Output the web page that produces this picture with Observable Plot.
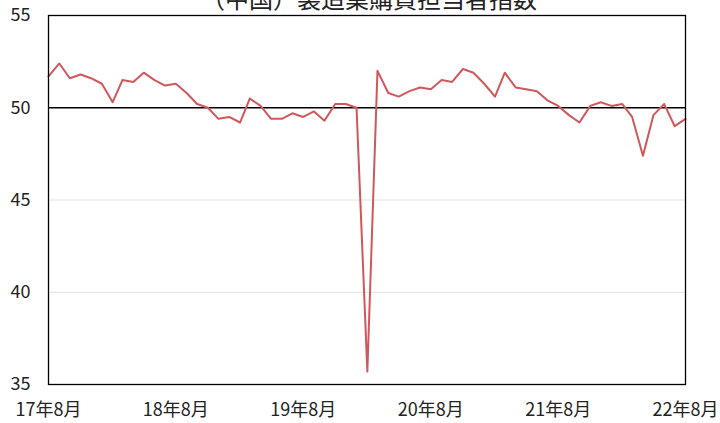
<!DOCTYPE html>
<html><head><meta charset="utf-8">
<script src="https://cdn.jsdelivr.net/npm/d3@7"></script>
<script src="https://cdn.jsdelivr.net/npm/@observablehq/plot@0.6"></script>
<style>
body{margin:0;background:#fff;font-family:"Noto Sans CJK JP","Noto Sans",sans-serif;}
#wrap{position:relative;width:720px;height:423px;overflow:hidden;}
#title{position:absolute;left:0;width:738px;top:-14px;text-align:center;font-size:24px;line-height:24px;color:#222;white-space:nowrap;}
#chart{position:absolute;left:0;top:0;}
</style></head><body>
<div id="wrap"><div id="chart"></div><div id="title">（中国）製造業購買担当者指数</div></div>
<script>
// Monthly PMI, Aug 2017 .. Aug 2022
const pmi = [51.7,52.4,51.6,51.8,51.6,51.3,50.3,51.5,51.4,51.9,51.5,51.2,
  51.3,50.8,50.2,50.0,49.4,49.5,49.2,50.5,50.1,49.4,49.4,49.7,
  49.5,49.8,49.3,50.2,50.2,50.0,35.7,52.0,50.8,50.6,50.9,51.1,
  51.0,51.5,51.4,52.1,51.9,51.3,50.6,51.9,51.1,51.0,50.9,50.4,
  50.1,49.6,49.2,50.1,50.3,50.1,50.2,49.5,47.4,49.6,50.2,49.0,49.4];
const tickLabels = ["17年8月","18年8月","19年8月","20年8月","21年8月","22年8月"];
const tickMonthIndex = [0,12,24,36,48,60];
const yTicks = [35,40,45,50,55];
const gridLines = [40,45];
const refLine = [50];

const data = pmi.map((v,i)=>({date:new Date(Date.UTC(2017,7+i,1)), value:v}));
const tickDates = tickMonthIndex.map(i=>data[i].date);
const labelMap = new Map(tickDates.map((d,i)=>[+d, tickLabels[i]]));

const chart = Plot.plot({
  width:720, height:423,
  marginLeft:48, marginRight:35, marginTop:15, marginBottom:39,
  style:{fontFamily:'"Noto Sans CJK JP","Noto Sans",sans-serif', fontSize:"18px", color:"#222", background:"transparent", overflow:"visible"},
  x:{type:"utc", domain:[data[0].date, data[data.length-1].date], ticks:tickDates, tickFormat:d=>labelMap.get(+d), tickSize:0, tickPadding:19, label:null},
  y:{domain:[35,55], ticks:yTicks, tickSize:0, tickPadding:18, label:null},
  marks:[
    Plot.ruleY(gridLines,{stroke:"#e2e2e2", strokeWidth:1}),
    Plot.ruleY(refLine,{stroke:"#000", strokeWidth:1.3}),
    Plot.line(data,{x:"date", y:"value", stroke:"#d0575b", strokeWidth:2}),
    Plot.frame({stroke:"#000", strokeWidth:1.3})
  ]
});
document.getElementById("chart").appendChild(chart);
</script>
</body></html>
